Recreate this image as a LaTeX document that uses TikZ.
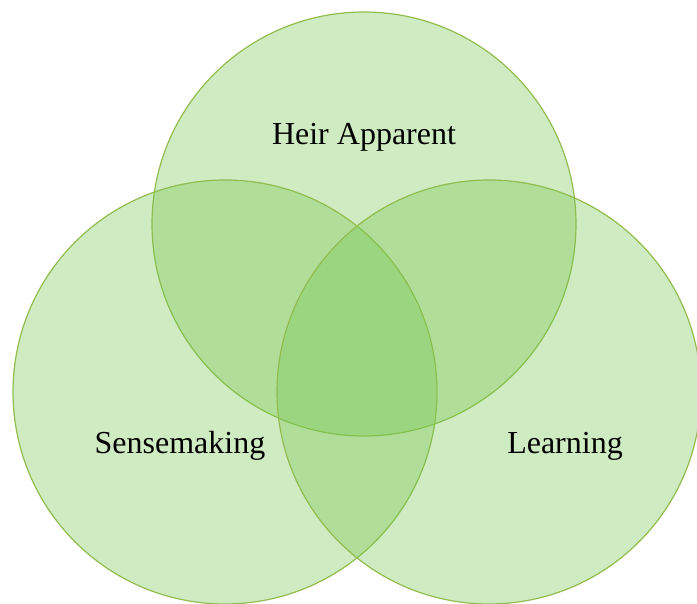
\documentclass[tikz,border=0pt]{standalone}
\usepackage{fontspec}
\setmainfont{Liberation Serif}
\usepackage{tikz}
\usetikzlibrary{positioning}
\definecolor{vennfill}{RGB}{119,198,80}
\definecolor{vennline}{RGB}{145,188,78}

\begin{document}
\begin{tikzpicture}[x=1pt, y=-1pt,
                venn/.style={circle, draw=vennline, line width=1.2pt, fill=vennfill, fill opacity=0.354, draw opacity=1, minimum size=424pt, inner sep=0pt},
                lbl/.style={font=\fontsize{32}{36}\selectfont, text=black, inner sep=0pt}]

    \useasboundingbox (0,0) rectangle (697,604); % same size as the reference

    \node [venn] (heir)  at (364,224) {};
    \node [venn] (sense) at (225,392) {};
    \node [venn] (learn) at (489,392) {};

    \node [lbl] (heirlbl)  at (364,137) {Heir Apparent};
    \node [lbl] (senselbl) at (180,446) {Sensemaking};
    \node [lbl] (learnlbl) at (565,446) {Learning};

\end{tikzpicture}
\end{document}
